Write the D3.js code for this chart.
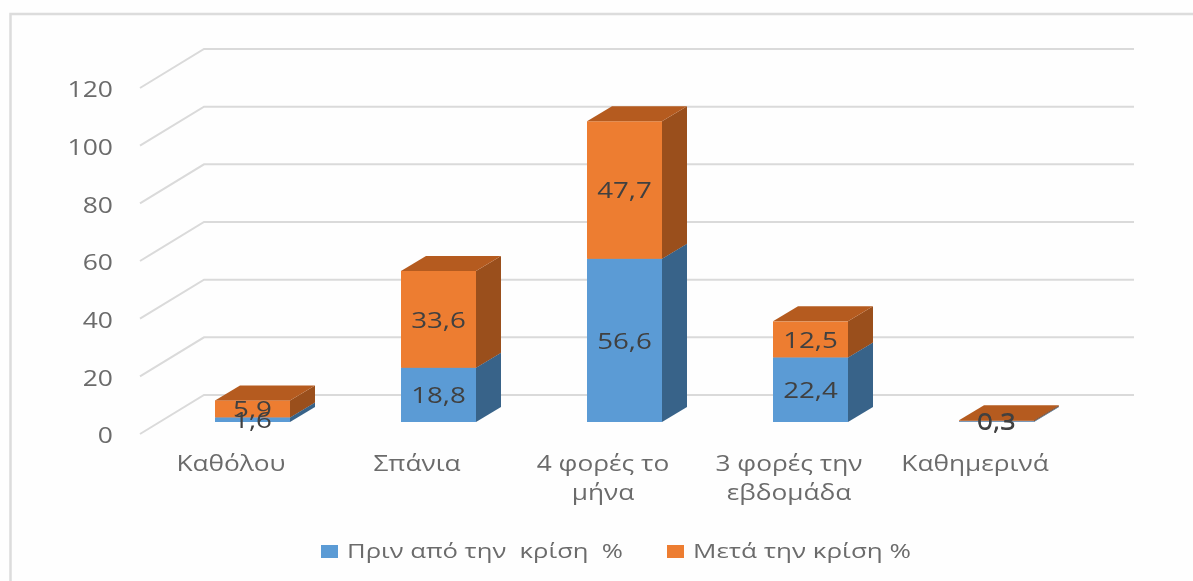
<!DOCTYPE html>
<html>
<head>
<meta charset="utf-8">
<script src="https://cdn.jsdelivr.net/npm/d3@7"></script>
<style>
  html, body { margin: 0; padding: 0; background: #fefefe; }
  svg { display: block; filter: blur(0.7px); }
  text { font-family: "Open Sans", sans-serif; }
</style>
</head>
<body>
<div id="chart"></div>
<script>
// values
var categories = ["Καθόλου", "Σπάνια", "4 φορές το μήνα", "3 φορές την εβδομάδα", "Καθημερινά"];
var before = [1.6, 18.8, 56.6, 22.4, 0.3];
var after = [5.9, 33.6, 47.7, 12.5, 0.3];
var seriesNames = ["Πριν από την  κρίση  %", "Μετά την κρίση %"];
var yTicks = [0, 20, 40, 60, 80, 100, 120];

var width = 1193, height = 581;

var svg = d3.select("#chart")
  .append("svg")
    .attr("width", width)
    .attr("height", height);

// frame of the chart area, only top and left are in the crop
svg.append("path")
    .attr("d", "M10.5," + height + "V14H" + width)
    .attr("fill", "none")
    .attr("stroke", "#dcdcdc")
    .attr("stroke-width", 2.5);

// scales live on the front edge of the 3D floor
var x = d3.scaleBand()
    .domain(categories)
    .range([140, 1070])
    .paddingInner(1 - 75 / 186)
    .paddingOuter((1 - 75 / 186) / 2);

var y = d3.scaleLinear()
    .domain([0, 120])
    .range([434, 88]);

// 3D offsets
var wall = {dx: 64, dy: -39};
var gap = {dx: 19.5, dy: -12};
var depth = {dx: 25, dy: -15};

// gridlines: diagonal on the side wall then across the back wall
svg.append("g").selectAll("path")
  .data(yTicks)
  .join("path")
    .attr("d", function(d) {
      return "M" + x.range()[0] + "," + y(d) +
        "L" + (x.range()[0] + wall.dx) + "," + (y(d) + wall.dy) +
        "H" + (x.range()[1] + wall.dx);
    })
    .attr("fill", "none")
    .attr("stroke", "#dadada")
    .attr("stroke-width", 2);

// Y axis
var yAxis = svg.append("g")
    .attr("transform", "translate(113,2)")
    .call(d3.axisLeft(y).tickValues(yTicks).tickSize(0).tickPadding(0));
yAxis.select(".domain").remove();
yAxis.selectAll("text")
    .attr("transform", "scale(1.26,1)")
    .attr("font-size", 21)
    .attr("fill", "#6b6b6b");

// X axis, long labels break at the last space
var xAxis = svg.append("g")
    .attr("transform", "translate(-2,456)")
    .call(d3.axisBottom(x).tickSize(0).tickPadding(0));
xAxis.select(".domain").remove();
xAxis.selectAll("text")
    .attr("font-size", 21)
    .attr("fill", "#6b6b6b")
    .attr("transform", "scale(1.25,1)")
    .each(function(d) {
      var cut = d.lastIndexOf(" ");
      var lines = d.indexOf(" ") < 0 ? [d] : [d.slice(0, cut), d.slice(cut + 1)];
      var t = d3.select(this).text(null);
      lines.forEach(function(line, i) {
        t.append("tspan")
            .attr("x", 0)
            .attr("y", i * 29)
            .attr("dy", "0.71em")
            .text(line);
      });
    });

// stacked bars
var rows = categories.map(function(c, i) {
  return {category: c, before: before[i], after: after[i]};
});
var stacked = d3.stack().keys(["before", "after"])(rows);
var colors = [
  {front: "#5b9bd5", side: "#386389", top: "#4f86b8"},
  {front: "#ed7d31", side: "#9a4f1c", top: "#b55b1f"}
];

function pts(list) {
  return list.map(function(p) { return p.join(","); }).join(" ");
}

// draw bar by bar, bottom segment first
categories.forEach(function(c, i) {
  var g = svg.append("g");
  stacked.forEach(function(layer, k) {
    var x0 = x(c) + gap.dx, x1 = x0 + x.bandwidth();
    var yBase = y(layer[i][0]) + gap.dy, yTop = y(layer[i][1]) + gap.dy;
    g.append("rect")
        .attr("x", x0)
        .attr("y", yTop)
        .attr("width", x.bandwidth())
        .attr("height", yBase - yTop)
        .attr("fill", colors[k].front);
    g.append("polygon")
        .attr("points", pts([[x1, yBase], [x1 + depth.dx, yBase + depth.dy],
                             [x1 + depth.dx, yTop + depth.dy], [x1, yTop]]))
        .attr("fill", colors[k].side);
    g.append("polygon")
        .attr("points", pts([[x0, yTop], [x0 + depth.dx, yTop + depth.dy],
                             [x1 + depth.dx, yTop + depth.dy], [x1, yTop]]))
        .attr("fill", colors[k].top);
  });
});

// data labels on top of everything, as in the original they can overlap
stacked.forEach(function(layer) {
  svg.append("g").selectAll("text")
    .data(layer)
    .join("text")
      .attr("transform", function(d) {
        var cx = x(d.data.category) + gap.dx + x.bandwidth() / 2;
        var cy = y((d[0] + d[1]) / 2) + gap.dy;
        return "translate(" + cx + "," + cy + ") scale(1.32,1)";
      })
      .attr("dy", "0.4em")
      .attr("text-anchor", "middle")
      .attr("font-size", 21)
      .attr("fill", "#404040")
      .text(function(d) { return String(+(d[1] - d[0]).toFixed(1)).replace(".", ","); });
});

// legend
var legendX = [321, 667];
var legendLen = [276, 218];
var legend = svg.append("g").selectAll("g")
  .data(seriesNames)
  .join("g")
    .attr("transform", function(d, i) { return "translate(" + legendX[i] + ",545)"; });
legend.append("rect")
    .attr("width", 17)
    .attr("height", 13)
    .attr("fill", function(d, i) { return colors[i].front; });
legend.append("text")
    .attr("x", 26)
    .attr("y", 13)
    .attr("font-size", 20)
    .attr("fill", "#6b6b6b")
    .style("white-space", "pre")
    .attr("textLength", function(d, i) { return legendLen[i]; })
    .attr("lengthAdjust", "spacingAndGlyphs")
    .text(function(d) { return d; });
</script>
</body>
</html>
